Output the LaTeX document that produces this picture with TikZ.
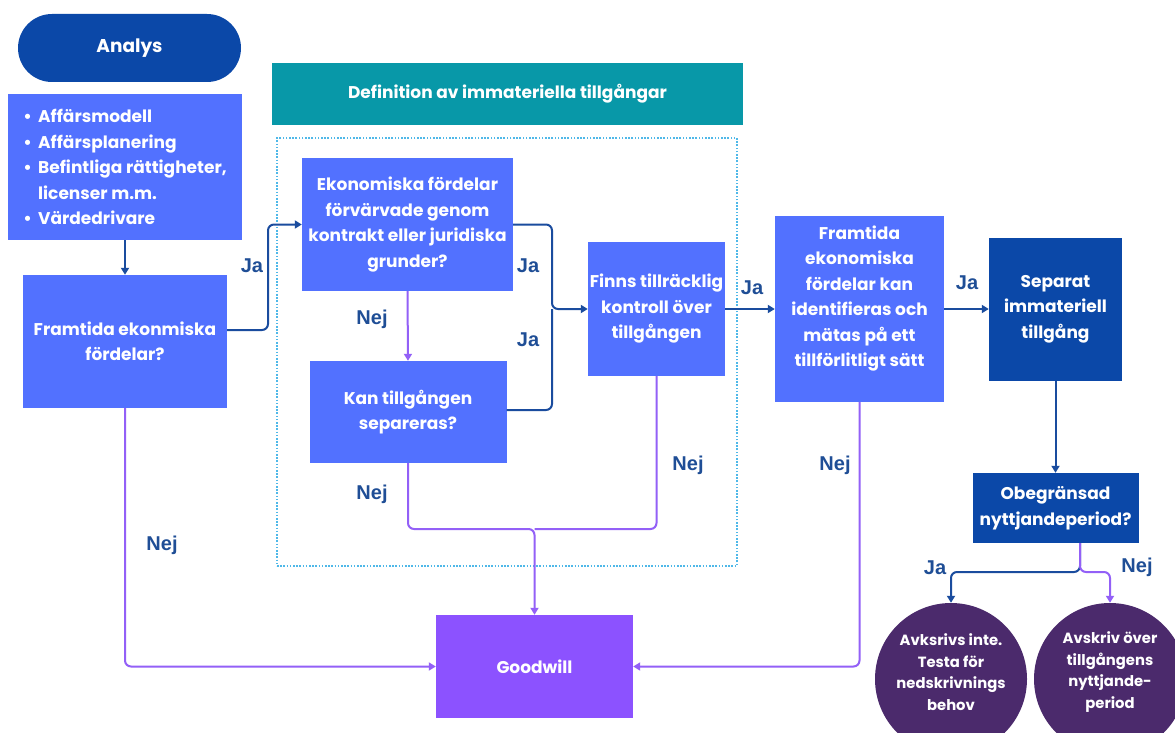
\documentclass[tikz,border=0pt]{standalone}
\usepackage{fontspec}
\setmainfont{Poppins}
\newfontfamily\lblfont{Liberation Sans}
\usetikzlibrary{arrows.meta,calc}
\definecolor{dkblue}{HTML}{0B48A8}
\definecolor{medblue}{HTML}{5271FF}
\definecolor{tealc}{HTML}{0898A8}
\definecolor{gwpurple}{HTML}{8C52FF}
\definecolor{lnpurple}{HTML}{9360F7}
\definecolor{circpurple}{HTML}{4B2A6C}
\definecolor{lndark}{HTML}{1A4C9E}
\definecolor{lbltext}{HTML}{1F4E96}
\definecolor{dotblue}{HTML}{4FB8E8}
\tikzset{
  txt/.style={font=\bfseries\fontsize{17}{25.5}\selectfont, text=white, align=center, inner sep=0pt},
  box/.style={txt, rectangle},
  medbox/.style={box, fill=medblue},
  dkbox/.style={box, fill=dkblue},
  circbox/.style={circle, fill=circpurple, inner sep=0pt, minimum size=152pt},
  circtxt/.style={font=\bfseries\fontsize{14.8}{21.7}\selectfont, text=white, align=center, inner sep=0pt},
  lbl/.style={font=\lblfont\bfseries\fontsize{20}{22}\selectfont, text=lbltext, inner sep=0pt},
  arr/.style={-{Triangle[width=8pt,length=7pt]}},
  dkln/.style={draw=lndark, line width=2pt, rounded corners=6pt},
  puln/.style={draw=lnpurple, line width=2pt, rounded corners=6pt},
}
\begin{document}
\begin{tikzpicture}[x=1pt,y=-1pt]
\useasboundingbox (0,0) rectangle (1175,733);
\fill[white] (0,0) rectangle (1175,733);
% dotted frame
\node[draw=dotblue, line width=1.6pt, dash pattern=on 1.6pt off 1.6pt, minimum width=460pt, minimum height=428pt, inner sep=0pt] (dbox) at (507,352) {};
% nodes
\node[box, fill=dkblue, rounded corners=34pt, minimum width=223pt, minimum height=68pt, font=\bfseries\fontsize{18.5}{22}\selectfont] (an) at (129.5,48) {Analys};
\node[medbox, minimum width=234pt, minimum height=146pt, align=left] (bl) at (125,167)
  {\textbullet\ \,Affärsmodell\\ \textbullet\ \,Affärsplanering\\ \textbullet\ \,Befintliga rättigheter,\\ \phantom{\textbullet\ \,}licenser m.m.\\ \textbullet\ \,Värdedrivare};
\node[medbox, minimum width=204pt, minimum height=133pt] (fl) at (125,341.5) {Framtida ekonmiska\\fördelar?};
\node[box, fill=tealc, minimum width=471pt, minimum height=62pt] (def) at (507.5,94) {Definition av immateriella tillgångar};
\node[medbox, minimum width=211pt, minimum height=133pt] (ek) at (407.5,224.5) {Ekonomiska fördelar\\förvärvade genom\\kontrakt eller juridiska\\grunder?};
\node[medbox, minimum width=197pt, minimum height=102pt] (kan) at (408,412) {Kan tillgången\\separeras?};
\node[medbox, minimum width=137pt, minimum height=134pt] (fin) at (656.5,309) {Finns tillräcklig\\kontroll över\\tillgången};
\node[medbox, minimum width=169pt, minimum height=186pt] (fr) at (859.5,309) {Framtida\\ekonomiska\\fördelar kan\\identifieras och\\mätas på ett\\tillförlitligt sätt\\\mbox{}};
\node[dkbox, minimum width=133pt, minimum height=143pt] (sep) at (1055.5,309) {Separat\\immateriell\\tillgång};
\node[dkbox, minimum width=166pt, minimum height=70pt] (obe) at (1055.5,508) {Obegränsad\\nyttjandeperiod?};
\node[box, fill=gwpurple, minimum width=197pt, minimum height=103pt] (gw) at (534.5,666.5) {Goodwill};
\node[circbox] (c1) at (951,679) {};
\node[circbox] (c2) at (1110,679) {};
\node[circtxt] (c1t) at (951,672) {Avksrivs inte.\\Testa för\\nedskrivnings\\behov};
\node[circtxt] (c2t) at (1110,672) {Avskriv över\\tillgångens\\nyttjande-\\period};
% junctions
\coordinate (j1) at (268,224.5);
\coordinate (j2) at (552,309);
\coordinate (j4) at (534.5,529);
\coordinate (jL) at (951,572);
\coordinate (jR) at (1110,572);
% connectors
\draw[dkln, arr] (bl.south) -- (fl.north);
\draw[dkln, arr] ([yshift=11.5pt]fl.east) -| (j1) -- (ek.west);
\draw[puln, arr] (ek.south) -- (kan.north);
\draw[dkln, arr] (ek.east) -| (j2) -- (fin.west);
\draw[dkln] ([yshift=2pt]kan.east) -| (j2);
\draw[dkln, arr] (fin.east) -- (fr.west);
\draw[dkln, arr] (fr.east) -- (sep.west);
\draw[dkln, arr] (sep.south) -- (obe.north);
\draw[dkln, arr] ([xshift=24.5pt]obe.south) |- (jL) -- (c1.north);
\draw[puln, arr] ([xshift=24.5pt]obe.south) |- (jR) -- (c2.north);
\draw[puln, arr] (fl.south) |- (gw.west);
\draw[puln, arr] (kan.south) |- (j4) -- (gw.north);
\draw[puln] (fin.south) |- (j4);
\draw[puln, arr] (fr.south) |- (gw.east);
% labels
\node[lbl] (l1) at (252,266) {Ja};
\node[lbl] (l2) at (372,319) {Nej};
\node[lbl] (l3) at (528,266) {Ja};
\node[lbl] (l4) at (528,340) {Ja};
\node[lbl] (l5) at (752,288) {Ja};
\node[lbl] (l6) at (967,283) {Ja};
\node[lbl] (l7) at (162,545) {Nej};
\node[lbl] (l8) at (372,494) {Nej};
\node[lbl] (l9) at (688,465) {Nej};
\node[lbl] (l10) at (835,465) {Nej};
\node[lbl] (l11) at (935,568) {Ja};
\node[lbl] (l12) at (1137,567) {Nej};
\end{tikzpicture}
\end{document}
